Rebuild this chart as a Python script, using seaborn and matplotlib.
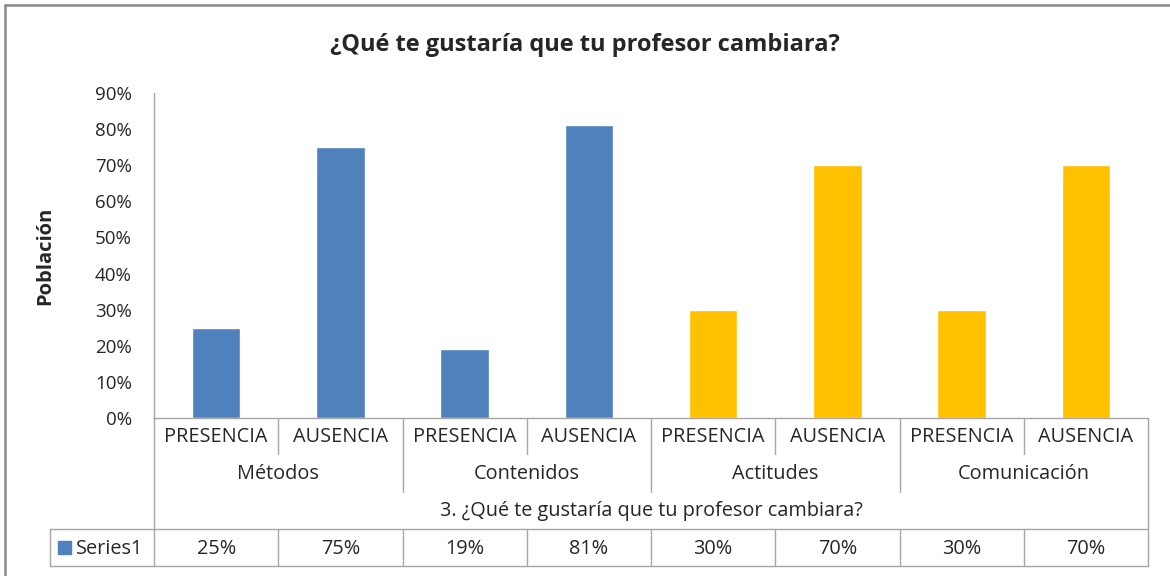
import numpy as np
import pandas as pd
import seaborn as sns
import matplotlib.pyplot as plt
from matplotlib.lines import Line2D
from matplotlib.patches import Rectangle

# data
subcats = ["PRESENCIA", "AUSENCIA", "PRESENCIA", "AUSENCIA",
           "PRESENCIA", "AUSENCIA", "PRESENCIA", "AUSENCIA"]
groups = ["Métodos", "Contenidos", "Actitudes", "Comunicación"]
values = [0.25, 0.75, 0.19, 0.81, 0.30, 0.70, 0.30, 0.70]
yticks = [0.0, 0.1, 0.2, 0.3, 0.4, 0.5, 0.6, 0.7, 0.8, 0.9]
title = "¿Qué te gustaría que tu profesor cambiara?"
axis_title = "3. ¿Qué te gustaría que tu profesor cambiara?"
ylabel = "Población"
series_name = "Series1"

sns.set_theme(style="white")
plt.rcParams['font.family'] = ['Open Sans', 'DejaVu Sans']

W, H = 1170, 576
fig = plt.figure(figsize=(W / 100, H / 100), dpi=100)
fig.patch.set_facecolor("white")

# plot area in pixels: x 154..1148, y 93..418
x0, x1, ytop, ybot = 154, 1148, 93, 418
ax = fig.add_axes([x0 / W, (H - ybot) / H, (x1 - x0) / W, (ybot - ytop) / H])

df = pd.DataFrame({"pos": range(len(values)), "valor": values,
                   "grupo": np.repeat(groups, 2)})
pal = {"Métodos": "#4F81BD", "Contenidos": "#4F81BD",
       "Actitudes": "#FFC000", "Comunicación": "#FFC000"}
sns.barplot(data=df, x="pos", y="valor", hue="grupo", palette=pal,
            dodge=False, width=0.39, legend=False, ax=ax, saturation=1)

fs = 14.3
ax.set_xlim(-0.5, len(values) - 0.5)
ax.set_ylim(0, 0.9)
ax.set_yticks(yticks)
ax.set_yticklabels([f"{v:.0%}" for v in yticks], fontsize=13.5)
ax.set_xticks([])
ax.set_xlabel("")
ax.set_ylabel(ylabel, fontsize=14.5, fontweight="bold")
ax.yaxis.set_label_coords((55 - x0) / (x1 - x0), 0.5)
ax.tick_params(axis="y", length=0, pad=16)
for s in ["top", "right"]:
    ax.spines[s].set_visible(False)
for s in ["left", "bottom"]:
    ax.spines[s].set_color("#a6a6a6")
    ax.spines[s].set_linewidth(1.0)

# table below the axis
tr = ax.get_xaxis_transform()
step = (x1 - x0) / len(values)


def yf(py):
    return (ybot - py) / (ybot - ytop)


def xd(px):
    return (px - x0) / step - 0.5


lc = "#a6a6a6"


def seg(xa, xb, ya, yb):
    ax.add_line(Line2D([xa, xb], [yf(ya), yf(yb)], transform=tr,
                       color=lc, lw=1.0, clip_on=False))


n = len(values)
seg(-0.5, -0.5, ybot, 566)
seg(n - 0.5, n - 0.5, ybot, 566)
for i in range(n - 1):
    if i % 2 == 0:
        seg(i + 0.5, i + 0.5, ybot, 454)
    else:
        seg(i + 0.5, i + 0.5, ybot, 492)
    seg(i + 0.5, i + 0.5, 529, 566)
seg(xd(50), n - 0.5, 529, 529)
seg(xd(50), n - 0.5, 566, 566)
seg(xd(50), xd(50), 529, 566)

for i, lab in enumerate(subcats):
    ax.text(i, yf(437), lab, transform=tr, ha="center", va="center",
            fontsize=fs, clip_on=False)
    ax.text(i, yf(549), f"{values[i]:.0%}", transform=tr, ha="center",
            va="center", fontsize=fs, clip_on=False)
for g, name in enumerate(groups):
    ax.text(2 * g + 0.5, yf(474), name, transform=tr, ha="center",
            va="center", fontsize=fs, clip_on=False)
ax.text((n - 1) / 2, yf(511), axis_title, transform=tr, ha="center",
        va="center", fontsize=fs, clip_on=False)

# legend key in the data table
fig.add_artist(Rectangle((58 / W, 1 - 554 / H), 13 / W, 13 / H,
                         transform=fig.transFigure, color="#4F81BD"))
fig.text(76 / W, 1 - 549 / H, series_name, ha="left", va="center",
         fontsize=fs)

# title
fig.text(0.5, 1 - 45 / H, title, ha="center", va="center",
         fontsize=17, fontweight="bold")

# outer chart frame (only top and left visible)
fig.add_artist(Line2D([4.5 / W, 1], [1 - 4.5 / H, 1 - 4.5 / H],
                      transform=fig.transFigure, color="#8a8a8a", lw=1.8))
fig.add_artist(Line2D([4.5 / W, 4.5 / W], [0, 1 - 4.5 / H],
                      transform=fig.transFigure, color="#8a8a8a", lw=1.8))

fig.savefig("out.png", dpi=100)
